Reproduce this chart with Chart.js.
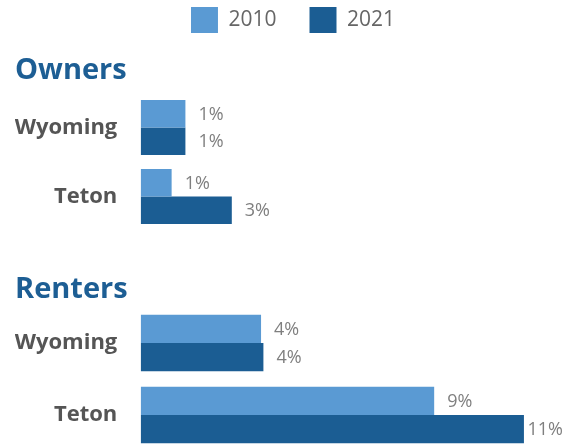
<!DOCTYPE html>
<html>
<head>
<meta charset="utf-8">
<script src="https://cdn.jsdelivr.net/npm/chart.js"></script>
<style>
  html, body { margin: 0; padding: 0; background: #fff; }
  body { width: 571px; height: 444px; overflow: hidden; position: relative; }
  .panel { position: absolute; left: 0; }
  #ownersPanel { top: -26px; }
  #rentersPanel { top: 270px; }
</style>
</head>
<body>
<div class="panel" id="ownersPanel"><canvas id="ownersChart" width="571" height="257"></canvas></div>
<div class="panel" id="rentersPanel"><canvas id="rentersChart" width="571" height="181"></canvas></div>
<script>
// Share of households, by tenure
const places = ["Wyoming", "Teton"];
const years = ["2010", "2021"];
const owners2010 = [1.33, 0.92];
const owners2021 = [1.33, 2.71];
const renters2010 = [3.58, 8.73];
const renters2021 = [3.65, 11.4];
const xMax = 12.8;

const light = "#5a9ad3";
const dark = "#1b5d93";
const font = "'Open Sans', 'DejaVu Sans', sans-serif";

// rounded percent written just past the end of each bar
const valueLabels = {
  id: "valueLabels",
  afterDatasetsDraw(chart) {
    const ctx = chart.ctx;
    const limit = chart.chartArea.right - 8;
    ctx.save();
    ctx.font = "18px " + font;
    ctx.fillStyle = "#7f7f7f";
    ctx.textBaseline = "middle";
    ctx.textAlign = "left";
    chart.data.datasets.forEach((ds, i) => {
      chart.getDatasetMeta(i).data.forEach((bar, j) => {
        const text = Math.round(ds.data[j]) + "%";
        const w = ctx.measureText(text).width;
        ctx.fillText(text, Math.min(bar.x + 13, limit - w), bar.y + 1);
      });
    });
    ctx.restore();
  },
};

function makeChart(id, title, a, b, opts) {
  return new Chart(document.getElementById(id), {
    type: "bar",
    data: {
      labels: places,
      datasets: [
        { label: years[0], data: a, backgroundColor: light, borderWidth: 0 },
        { label: years[1], data: b, backgroundColor: dark, borderWidth: 0 },
      ],
    },
    options: {
      indexAxis: "y",
      responsive: false,
      animation: false,
      barPercentage: 1,
      categoryPercentage: opts.category,
      layout: { padding: { left: 15 } },
      plugins: {
        legend: {
          display: opts.legend,
          labels: {
            boxWidth: 27,
            boxHeight: 26,
            padding: 33,
            color: "#666",
            font: { family: font, size: 21 },
          },
        },
        title: {
          display: true,
          text: title,
          align: "start",
          weight: 500, // keep the heading under the legend
          color: "#1d5e94",
          font: { family: font, size: 29, weight: "bold", lineHeight: 1 },
          padding: opts.titlePad,
        },
        tooltip: { enabled: false },
      },
      scales: {
        x: { display: false, min: 0, max: xMax },
        y: {
          grid: { display: false, drawTicks: false },
          border: { display: false },
          ticks: {
            color: "#555",
            padding: 23.4,
            font: { family: font, size: 22, weight: "bold" },
          },
          afterFit: function (scale) {
            // fixed gutter for the place names, no extra room above/below
            scale.width = 125.7;
            scale.paddingTop = 0;
            scale.paddingBottom = 0;
          },
        },
      },
    },
    plugins: [valueLabels],
  });
}

makeChart("ownersChart", "Owners", owners2010, owners2021, {
  legend: true,
  category: 0.797,
  titlePad: { top: 13, bottom: 8 },
});

makeChart("rentersChart", "Renters", renters2010, renters2021, {
  legend: false,
  category: 0.785,
  titlePad: { top: 5, bottom: 3 },
});
</script>
</body>
</html>
